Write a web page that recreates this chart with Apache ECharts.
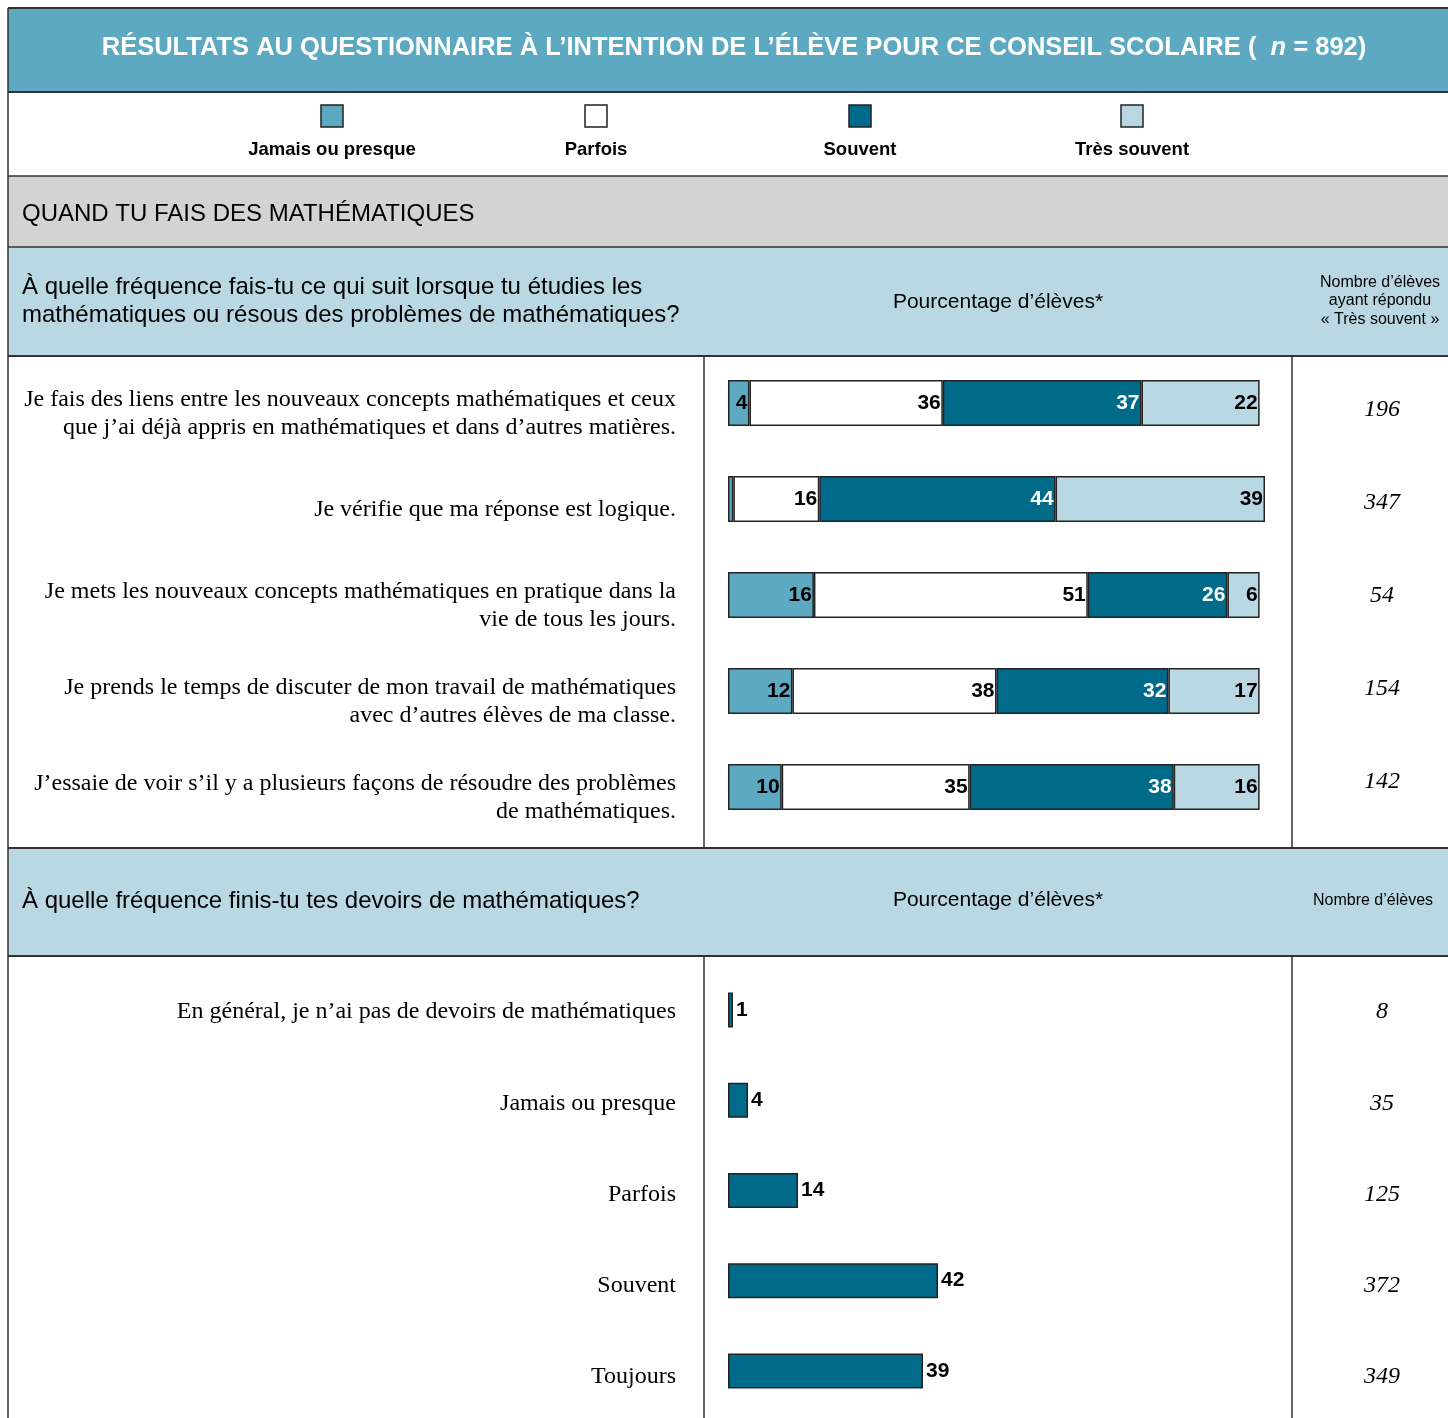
<!DOCTYPE html>
<html>
<head>
<meta charset="utf-8">
<script src="https://cdn.jsdelivr.net/npm/echarts@6/dist/echarts.min.js"></script>
<style>
  html, body { margin: 0; padding: 0; background: #ffffff; }
  #chart { width: 1448px; height: 1418px; }
</style>
</head>
<body>
<div id="chart"></div>
<script>
// Response scale and colours
const responseNames = ['Jamais ou presque', 'Parfois', 'Souvent', 'Très souvent'];
const responseColors = ['#5ca9c1', '#ffffff', '#006a8a', '#b9d8e3'];
const responseLabelColors = ['#000000', '#000000', '#ffffff', '#000000'];

// Section 1: study habits in mathematics
const studyItems = [
  'Je fais des liens entre les nouveaux concepts mathématiques et ceux\nque j\u2019ai déjà appris en mathématiques et dans d\u2019autres matières.',
  'Je vérifie que ma réponse est logique.',
  'Je mets les nouveaux concepts mathématiques en pratique dans la\nvie de tous les jours.',
  'Je prends le temps de discuter de mon travail de mathématiques\navec d\u2019autres élèves de ma classe.',
  'J\u2019essaie de voir s\u2019il y a plusieurs façons de résoudre des problèmes\nde mathématiques.'
];
const jamaisPct = [4, 1, 16, 12, 10];
const parfoisPct = [36, 16, 51, 38, 35];
const souventPct = [37, 44, 26, 32, 38];
const tresSouventPct = [22, 39, 6, 17, 16];
const tresSouventCounts = ['196', '347', '54', '154', '142'];

// Section 2: homework completion
const homeworkItems = [
  'En général, je n\u2019ai pas de devoirs de mathématiques',
  'Jamais ou presque',
  'Parfois',
  'Souvent',
  'Toujours'
];
const homeworkPct = [1, 4, 14, 42, 39];
const homeworkCounts = ['8', '35', '125', '372', '349'];

const sans = '"Liberation Sans", Arial, sans-serif';
const serif = '"Liberation Serif", "Times New Roman", serif';
const lineColor = '#333333';

const chart = echarts.init(document.getElementById('chart'), null, { renderer: 'canvas' });

function hline(y, w) {
  return { type: 'line', shape: { x1: 8, y1: y, x2: 1448, y2: y }, style: { stroke: lineColor, lineWidth: w || 2 }, z: 10 };
}
function vline(x, y1, y2) {
  return { type: 'line', shape: { x1: x, y1: y1, x2: x, y2: y2 }, style: { stroke: lineColor, lineWidth: 1.5 }, z: 10 };
}
function band(y, h, fill) {
  return { type: 'rect', shape: { x: 8, y: y, width: 1440, height: h }, style: { fill: fill }, z: 0 };
}
function txt(x, y, text, font, align, lineHeight) {
  return {
    type: 'text', x: x, y: y, z: 20,
    style: { text: text, font: font, fill: '#000', align: align || 'left', verticalAlign: 'middle', lineHeight: lineHeight }
  };
}

// Legend swatches above the labels
const legendCenters = [332, 596, 860, 1132];
const legendGraphics = [];
responseNames.forEach(function (name, i) {
  legendGraphics.push({
    type: 'rect', shape: { x: legendCenters[i] - 11, y: 105, width: 22, height: 22 },
    style: { fill: responseColors[i], stroke: '#222', lineWidth: 1.5 }, z: 20
  });
  legendGraphics.push(txt(legendCenters[i], 150, name, 'bold 18.5px ' + sans, 'center'));
});

const graphics = [
  band(8, 84, '#5ca9c1'),
  band(176, 71, '#d3d3d3'),
  band(247, 109, '#b9d8e3'),
  band(848, 108, '#b9d8e3'),
  hline(8), hline(92), hline(176, 1.5), hline(247, 1.5), hline(356), hline(848), hline(956),
  vline(8, 8, 1418),
  vline(704, 356, 848), vline(1292, 356, 848),
  vline(704, 956, 1418), vline(1292, 956, 1418),
  {
    type: 'text', x: 734, y: 48, z: 20,
    style: {
      text: '{a|RÉSULTATS AU QUESTIONNAIRE À L\u2019INTENTION DE L\u2019ÉLÈVE POUR CE CONSEIL SCOLAIRE (  }{i|n}{a| = 892)}',
      align: 'center', verticalAlign: 'middle',
      rich: {
        a: { font: 'bold 25.5px ' + sans, fill: '#ffffff' },
        i: { font: 'italic bold 25.5px ' + sans, fill: '#ffffff' }
      }
    }
  },
  txt(22, 214, 'QUAND TU FAIS DES MATHÉMATIQUES', '24px ' + sans),
  txt(22, 301, 'À quelle fréquence fais-tu ce qui suit lorsque tu étudies les\nmathématiques ou résous des problèmes de mathématiques?', '24px ' + sans, 'left', 28),
  txt(998, 302, 'Pourcentage d\u2019élèves*', '21px ' + sans, 'center'),
  txt(1380, 301, 'Nombre d\u2019élèves\nayant répondu\n« Très souvent »', '16px ' + sans, 'center', 18.5),
  txt(22, 901, 'À quelle fréquence finis-tu tes devoirs de mathématiques?', '24px ' + sans),
  txt(998, 900, 'Pourcentage d\u2019élèves*', '21px ' + sans, 'center'),
  txt(1373, 901, 'Nombre d\u2019élèves', '16px ' + sans, 'center')
].concat(legendGraphics);

const stackSeriesData = [jamaisPct, parfoisPct, souventPct, tresSouventPct];
const stackSeries = responseNames.map(function (name, i) {
  return {
    name: name, type: 'bar', stack: 'freq',
    xAxisIndex: 0, yAxisIndex: 0,
    barWidth: 46,
    data: stackSeriesData[i],
    itemStyle: { color: responseColors[i], borderColor: '#222', borderWidth: 1.5 },
    label: {
      show: true, position: 'insideRight', distance: 2,
      fontFamily: sans, fontWeight: 'bold', fontSize: 21, color: responseLabelColors[i],
      formatter: function (p) { return p.value > 1 ? String(p.value) : ''; }
    },
    z: 5
  };
});

const hiddenCat = { axisLine: { show: false }, axisTick: { show: false } };
const rowLabel = { fontFamily: serif, fontSize: 24, color: '#000', lineHeight: 28, align: 'right', margin: 52 };
const countLabel = { fontFamily: serif, fontStyle: 'italic', fontSize: 24, color: '#000', align: 'center' };

function catAxis(gridIndex, data, position, label, edge) {
  return Object.assign({
    type: 'category', gridIndex: gridIndex, inverse: true, data: data, position: position,
    boundaryGap: !edge, axisLabel: label
  }, hiddenCat);
}

chart.setOption({
  animation: false,
  graphic: graphics,
  grid: [
    // 0: stacked bars, 1: item wording, 2: "Très souvent" counts
    { left: 728, top: 355, width: 537, height: 480 },
    { left: 728, top: 366, width: 537, height: 480 },
    { left: 728, top: 363, width: 537, height: 465 },
    // 3: homework bars, 4: homework wording and counts (first row at top edge, last at bottom edge)
    { left: 728, top: 965, width: 500, height: 451 },
    { left: 728, top: 1012, width: 500, height: 365 }
  ],
  xAxis: [0, 1, 2, 3, 4].map(function (g) {
    return { type: 'value', gridIndex: g, min: 0, max: 100, show: false };
  }),
  yAxis: [
    Object.assign({ type: 'category', gridIndex: 0, inverse: true, data: studyItems, axisLabel: { show: false } }, hiddenCat),
    catAxis(1, studyItems, 'left', rowLabel, false),
    catAxis(2, tresSouventCounts, 'right', Object.assign({ margin: 117 }, countLabel), false),
    Object.assign({ type: 'category', gridIndex: 3, inverse: true, data: homeworkItems, axisLabel: { show: false } }, hiddenCat),
    catAxis(4, homeworkItems, 'left', rowLabel, true),
    catAxis(4, homeworkCounts, 'right', Object.assign({ margin: 154 }, countLabel), true)
  ],
  series: stackSeries.concat([
    {
      name: 'Devoirs', type: 'bar',
      xAxisIndex: 3, yAxisIndex: 3,
      barWidth: 35,
      data: homeworkPct,
      itemStyle: { color: '#006a8a', borderColor: '#222', borderWidth: 1.5 },
      label: {
        show: true, position: 'right', distance: 3,
        fontFamily: sans, fontWeight: 'bold', fontSize: 21, color: '#000'
      },
      z: 5
    }
  ])
});
</script>
</body>
</html>
